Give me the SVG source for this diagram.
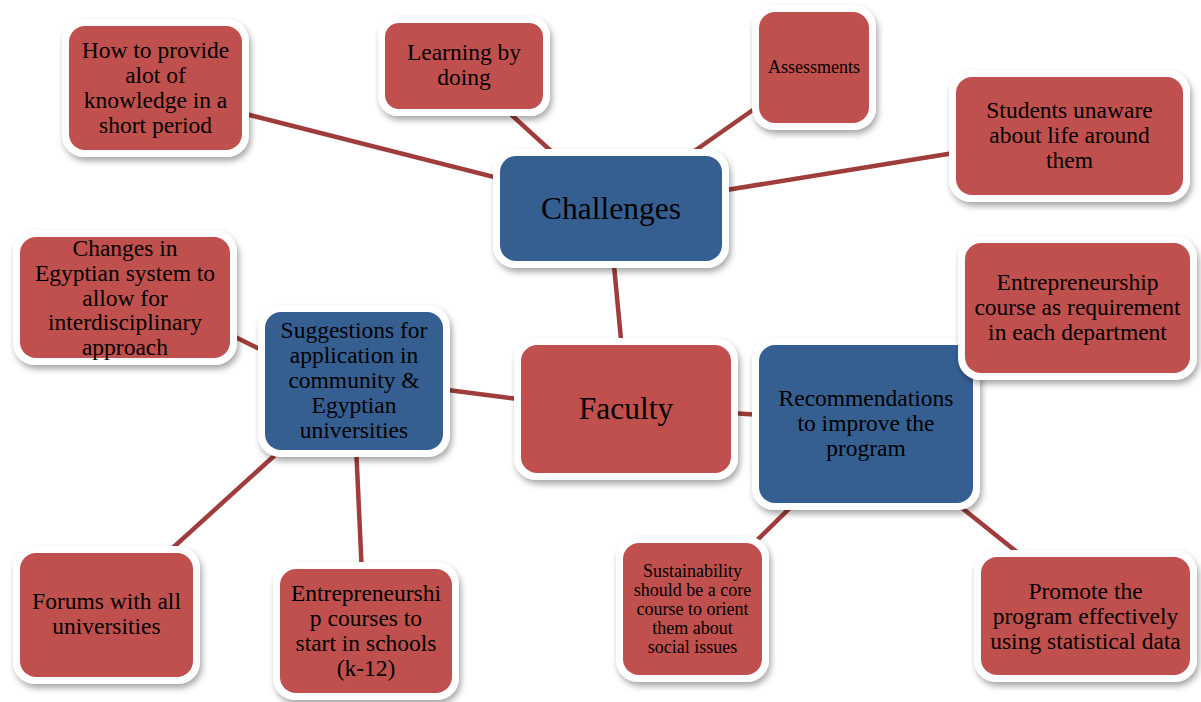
<svg xmlns="http://www.w3.org/2000/svg" width="1201" height="702" viewBox="0 0 1201 702">
<defs>
<filter id="sh" x="-20%" y="-20%" width="140%" height="150%">
<feDropShadow dx="2" dy="4" stdDeviation="3" flood-color="#000" flood-opacity="0.35"/>
</filter>
<style>
.o{fill:#fff;filter:url(#sh)}
.r{fill:#C0504D}
.b{fill:#365F91}
.c line{stroke:#9E3D3B;stroke-width:4.5}
text{font-family:"Liberation Serif","Times New Roman",serif;fill:#000;text-anchor:middle;font-size:23.5px}
.s{font-size:18px}
.L{font-size:31.5px}
</style>
</defs>
<rect width="1201" height="702" fill="#fff"/>
<g class="c" id="connectors">
<line x1="230" y1="110" x2="510" y2="181"/>
<line x1="505" y1="109" x2="562" y2="161"/>
<line x1="760" y1="105" x2="683" y2="159"/>
<line x1="960" y1="152" x2="714" y2="192"/>
<line x1="613" y1="255" x2="622" y2="350"/>
<line x1="440" y1="389" x2="525" y2="400"/>
<line x1="730" y1="413" x2="762" y2="415"/>
<line x1="225" y1="332" x2="270" y2="354"/>
<line x1="285" y1="446" x2="166" y2="554"/>
<line x1="356" y1="445" x2="362" y2="575"/>
<line x1="800" y1="498" x2="747" y2="550"/>
<line x1="952" y1="500" x2="1022" y2="556"/>
</g>
<g id="how">
<rect class="o" x="62" y="19" width="187" height="138" rx="22"/>
<rect class="r" x="69" y="26" width="173" height="124" rx="16"/>
<text x="155.5" y="58">How to provide<tspan x="155.5" y="83">alot of</tspan><tspan x="155.5" y="108">knowledge in a</tspan><tspan x="155.5" y="133">short period</tspan></text>
</g>
<g id="learning">
<rect class="o" x="378" y="16" width="172" height="100" rx="20"/>
<rect class="r" x="385" y="23" width="158" height="86" rx="14"/>
<text x="464" y="60">Learning by<tspan x="464" y="85">doing</tspan></text>
</g>
<g id="assessments">
<rect class="o" x="752" y="5" width="124" height="125" rx="22"/>
<rect class="r" x="759" y="12" width="110" height="111" rx="16"/>
<text class="s" x="814" y="73">Assessments</text>
</g>
<g id="students">
<rect class="o" x="949" y="70" width="241" height="132" rx="22"/>
<rect class="r" x="956" y="77" width="227" height="118" rx="16"/>
<text x="1069.5" y="118">Students unaware<tspan x="1069.5" y="143">about life around</tspan><tspan x="1069.5" y="168">them</tspan></text>
</g>
<g id="challenges">
<rect class="o" x="493" y="149" width="236" height="119" rx="22"/>
<rect class="b" x="500" y="156" width="222" height="105" rx="16"/>
<text class="L" x="611" y="219">Challenges</text>
</g>
<g id="changes">
<rect class="o" x="13" y="230" width="224" height="135" rx="22"/>
<rect class="r" x="20" y="237" width="210" height="121" rx="16"/>
<text x="125" y="256">Changes in<tspan x="125" y="281">Egyptian system to</tspan><tspan x="125" y="305.5">allow for</tspan><tspan x="125" y="330">interdisciplinary</tspan><tspan x="125" y="355">approach</tspan></text>
</g>
<g id="suggestions">
<rect class="o" x="258" y="305" width="192" height="152" rx="22"/>
<rect class="b" x="265" y="312" width="178" height="138" rx="16"/>
<text x="354" y="338">Suggestions for<tspan x="354" y="363">application in</tspan><tspan x="354" y="388">community &amp;</tspan><tspan x="354" y="413">Egyptian</tspan><tspan x="354" y="438">universities</tspan></text>
</g>
<g id="faculty">
<rect class="o" x="514" y="338" width="224" height="142" rx="22"/>
<rect class="r" x="521" y="345" width="210" height="128" rx="16"/>
<text class="L" x="626" y="419">Faculty</text>
</g>
<g id="recommendations">
<rect class="o" x="752" y="338" width="228" height="172" rx="22"/>
<rect class="b" x="759" y="345" width="214" height="158" rx="16"/>
<text x="866" y="406">Recommendations<tspan x="866" y="431">to improve the</tspan><tspan x="866" y="456">program</tspan></text>
</g>
<g id="entre-course">
<rect class="o" x="958" y="236" width="239" height="144" rx="22"/>
<rect class="r" x="965" y="243" width="225" height="130" rx="16"/>
<text x="1077.5" y="290">Entrepreneurship<tspan x="1077.5" y="315">course as requirement</tspan><tspan x="1077.5" y="340">in each department</tspan></text>
</g>
<g id="forums">
<rect class="o" x="13" y="546" width="187" height="138" rx="22"/>
<rect class="r" x="20" y="553" width="173" height="124" rx="16"/>
<text x="106.5" y="609">Forums with all<tspan x="106.5" y="634">universities</tspan></text>
</g>
<g id="entre-schools">
<rect class="o" x="273" y="562" width="186" height="138" rx="22"/>
<rect class="r" x="280" y="569" width="172" height="124" rx="16"/>
<text x="366" y="601">Entrepreneurshi<tspan x="366" y="626">p courses to</tspan><tspan x="366" y="651">start in schools</tspan><tspan x="366" y="676">(k-12)</tspan></text>
</g>
<g id="sustainability">
<rect class="o" x="616" y="536" width="153" height="146" rx="22"/>
<rect class="r" x="623" y="543" width="139" height="132" rx="16"/>
<text class="s" x="692.5" y="577">Sustainability<tspan x="692.5" y="596">should be a core</tspan><tspan x="692.5" y="615">course to orient</tspan><tspan x="692.5" y="634">them about</tspan><tspan x="692.5" y="653">social issues</tspan></text>
</g>
<g id="promote">
<rect class="o" x="974" y="550" width="223" height="132" rx="22"/>
<rect class="r" x="981" y="557" width="209" height="118" rx="16"/>
<text x="1085.5" y="599">Promote the<tspan x="1085.5" y="624">program effectively</tspan><tspan x="1085.5" y="649">using statistical data</tspan></text>
</g>
</svg>
